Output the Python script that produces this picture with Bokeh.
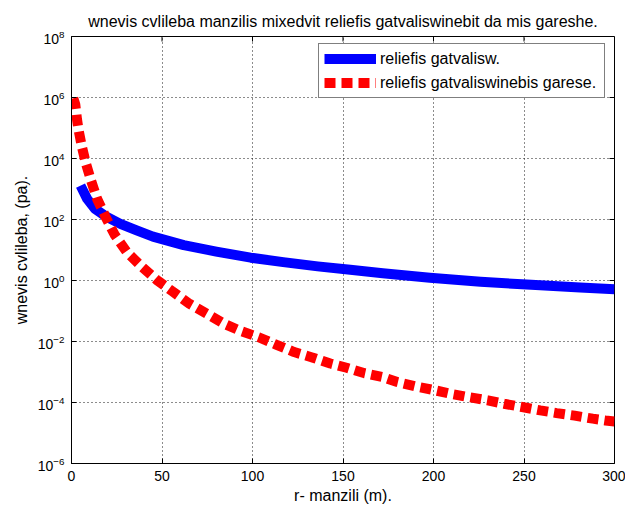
import math
from bokeh.plotting import figure
from bokeh.models import Range1d, FixedTicker, LogTickFormatter, Legend, LegendItem, Title
from bokeh.embed import file_html
from bokeh.resources import INLINE

# ---- data ----
title_text = "wnevis cvlileba manzilis mixedvit reliefis gatvaliswinebit da mis gareshe."
x_label = "r- manzili (m)."
y_label = "wnevis cvlileba, (pa)."
series_names = ["reliefis gatvalisw.", "reliefis gatvaliswinebis garese."]

blue_x = [5, 8.6, 13, 19.6, 27, 36, 45, 62, 80, 99, 117, 136, 154, 172, 198, 226, 254, 281, 300]
blue_y = [1290, 479, 224, 120, 72, 44, 27.5, 14.5, 8.9, 5.6, 4.0, 2.9, 2.24, 1.74, 1.23,
          0.91, 0.72, 0.59, 0.52]

red_x = [1, 2.1, 3.0, 3.9, 5.8, 8.0, 10.9, 14.1, 18.7, 23.8, 30.6, 38.6, 47, 55.5, 65.3, 74.9,
         84.4, 93.6, 103.4, 113, 123, 133, 143, 152, 162, 172, 180, 191, 201, 210, 220, 230,
         239, 249, 259, 268, 278, 288, 295, 300]
red_y = [9.5e5, 5.9e5, 2.0e5, 8.7e4, 2.34e4, 6760, 1820, 479, 126, 32, 8.5, 2.9, 1.05, 0.45,
         0.17, 0.081, 0.038, 0.022, 0.0138, 0.0079, 0.0045, 0.0030, 0.0019, 0.00138, 0.00091,
         0.00068, 0.00047, 0.00033, 0.00025, 0.00019, 0.000148, 0.000117, 0.000091, 0.000071,
         0.000055, 0.000045, 0.000037, 0.0000295, 0.0000257, 0.000024]

x_ticks = [0, 50, 100, 150, 200, 250, 300]
y_ticks = [1e-6, 1e-4, 1e-2, 1e0, 1e2, 1e4, 1e6, 1e8]
x_lim = (0, 300)
y_lim = (1e-6, 1e8)

FONT = "Liberation Sans"

p = figure(width=625, height=508, y_axis_type="log", output_backend="svg",
           toolbar_location=None,
           x_range=Range1d(*x_lim), y_range=Range1d(*y_lim),
           min_border_left=71, min_border_right=11, min_border_top=36, min_border_bottom=45)
p.background_fill_color = "white"
p.border_fill_color = "white"
p.outline_line_color = "black"
p.outline_line_width = 1

p.title = Title(text=title_text, align="center", text_font=FONT, text_font_size="16px",
                text_font_style="normal", text_color="black", standoff=14)

for ax in (p.xaxis[0], p.yaxis[0]):
    ax.major_label_text_font = FONT
    ax.major_label_text_font_size = "14px"
    ax.major_label_text_color = "black"
    ax.axis_label_text_font = FONT
    ax.axis_label_text_font_size = "16px"
    ax.axis_label_text_font_style = "normal"
    ax.axis_label_text_color = "black"
    ax.axis_line_color = "black"
    ax.major_tick_line_color = "black"
    ax.major_tick_in = 5
    ax.major_tick_out = 0
    ax.minor_tick_line_color = None
    ax.major_label_standoff = 7

p.xaxis[0].ticker = FixedTicker(ticks=x_ticks)
p.yaxis[0].ticker = FixedTicker(ticks=y_ticks)
p.yaxis[0].formatter = LogTickFormatter()
p.xaxis[0].axis_label = x_label
p.yaxis[0].axis_label = y_label
p.xaxis[0].axis_label_standoff = 3
p.yaxis[0].axis_label_standoff = 5

# grid
p.xgrid.ticker = FixedTicker(ticks=x_ticks)
p.ygrid.ticker = FixedTicker(ticks=y_ticks)
for g in (p.xgrid[0], p.ygrid[0]):
    g.grid_line_color = "black"
    g.grid_line_dash = "1 3"
    g.grid_line_width = 1
    g.grid_line_alpha = 0.9

# mirrored inward ticks on top and right edges of the box
p.ray(x=x_ticks, y=[y_lim[1]] * len(x_ticks), length=5, length_units="screen",
      angle=-math.pi / 2, line_color="black", line_width=1)
p.ray(x=[x_lim[1]] * len(y_ticks), y=y_ticks, length=5, length_units="screen",
      angle=math.pi, line_color="black", line_width=1)

r_blue = p.line(blue_x, blue_y, line_color="#0000ff", line_width=10, line_join="round")
r_red = p.line(red_x, red_y, line_color="#ff0000", line_width=10, line_dash="11 6",
               line_cap="butt")

legend = Legend(items=[LegendItem(label=series_names[0], renderers=[r_blue]),
                       LegendItem(label=series_names[1], renderers=[r_red])],
                location=(247, 365), orientation="vertical",
                label_text_font=FONT, label_text_font_size="16px", label_text_color="black",
                glyph_width=52, glyph_height=19, label_height=19, label_width=219,
                spacing=5, padding=5, label_standoff=4, margin=0,
                border_line_color="black", border_line_width=1,
                background_fill_color="white", background_fill_alpha=1.0)
p.add_layout(legend)

open("out.html", "w").write(file_html(p, INLINE))
